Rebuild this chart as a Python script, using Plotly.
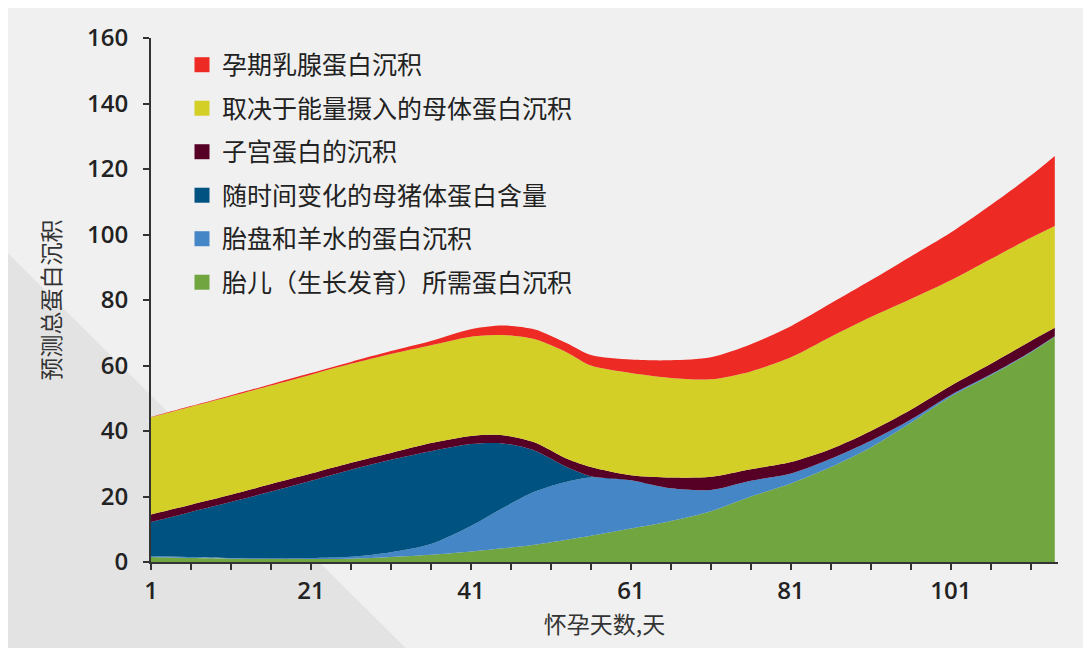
import plotly.graph_objects as go

days = [1, 6, 11, 16, 21, 26, 31, 36, 41, 45, 49, 53, 56, 61, 66, 71, 76, 81, 86, 91, 96, 101, 106, 111, 114]

fetus = [1.5, 1.2, 1.0, 0.9, 0.9, 1.0, 1.5, 2.2, 3.2, 4.2, 5.3, 6.8, 8.0, 10.2, 12.5, 15.5, 20, 24, 29, 35, 42.5, 50.5, 57, 64, 68.8]
placenta = [0.3, 0.3, 0.2, 0.2, 0.3, 0.6, 1.5, 3.3, 7.8, 12.3, 16.2, 17.7, 17.8, 14.8, 10, 6.5, 4.8, 3, 2.5, 2, 1, 0.5, 0.3, 0.2, 0.1]
sow_body = [10.4, 13.8, 17.1, 20.4, 23.6, 26.6, 28.2, 28.3, 25, 19.7, 12.5, 4.5, 0.4, 0, 0, 0, 0, 0, 0, 0, 0, 0, 0, 0, 0]
uterus = [2.3, 2.2, 2.2, 2.3, 2.2, 2.1, 2.1, 2.5, 2.5, 2.5, 2.5, 2.5, 2.8, 1.5, 3.3, 4.0, 3.5, 3.5, 3.0, 3.0, 3.0, 2.8, 3.2, 3.3, 2.6]
maternal = [29.7, 29.9, 30.1, 30.1, 30.2, 30.2, 30.2, 29.9, 30.3, 30.6, 31.5, 32.5, 31, 31.2, 30.4, 29.8, 29.9, 32, 34.3, 34.8, 33.8, 32.2, 32, 31.5, 31.1]
mammary = [0.1, 0.2, 0.3, 0.4, 0.5, 0.6, 0.9, 1.3, 2.3, 2.9, 3.0, 2.8, 3.2, 4.1, 5.4, 6.7, 8.3, 9.5, 10.2, 11.2, 13, 14.6, 16.5, 19, 21.4]

names = ["胎儿（生长发育）所需蛋白沉积", "胎盘和羊水的蛋白沉积", "随时间变化的母猪体蛋白含量",
         "子宫蛋白的沉积", "取决于能量摄入的母体蛋白沉积", "孕期乳腺蛋白沉积"]
colors = ["#70a540", "#4586c6", "#005380", "#560026", "#d4cf27", "#ed2a24"]
series = [fetus, placenta, sow_body, uterus, maternal, mammary]

fig = go.Figure()
for nm, col, vals in zip(names, colors, series):
    fig.add_trace(go.Scatter(
        x=days, y=vals, stackgroup="one", mode="lines",
        line=dict(width=0, shape="spline", smoothing=0.8, color=col),
        fillcolor=col, name=nm, showlegend=False, hoverinfo="skip"))

# legend entries, top to bottom: red first
for i, (nm, col) in enumerate(zip(names[::-1], colors[::-1])):
    fig.add_trace(go.Scatter(
        x=[None], y=[None], mode="markers",
        marker=dict(symbol="square", size=15, color=col),
        name=nm, legendgroup="g%d" % i, showlegend=True))

W, H = 1091, 648
L, R, T, B = 143, 41, 26, 94
pw, ph = W - L - R, H - T - B

def px(x):
    return (x - L) / pw

def py(y):
    return (H - B - y) / ph

shapes = [
    dict(type="path", xref="paper", yref="paper",
         path="M %f,%f L %f,%f L %f,%f Z" % (px(0), py(243), px(0), py(H), px(405), py(H)),
         fillcolor="#e3e3e3", line=dict(width=0), layer="below"),
]

tickfont = dict(family="Open Sans, Noto Sans CJK SC", size=24, color="#222222", weight=600)
titlefont = dict(family="Noto Sans CJK SC", size=23, color="#333333")

fig.update_layout(
    width=W, height=H,
    margin=dict(l=L, r=R, t=T, b=B),
    paper_bgcolor="#f0f0f0", plot_bgcolor="rgba(0,0,0,0)",
    shapes=shapes,
    showlegend=True,
    legend=dict(x=px(174), y=py(30), xanchor="left", yanchor="top",
                traceorder="grouped", tracegroupgap=8,
                bgcolor="rgba(0,0,0,0)",
                font=dict(family="Noto Sans CJK SC", size=25, color="#222222")),
    xaxis=dict(range=[1, 114.4], tick0=1, dtick=20, ticks="outside", ticklen=6, tickwidth=2,
               tickcolor="#333333", showline=True, linecolor="#333333", linewidth=2,
               showgrid=False, zeroline=False, tickfont=tickfont,
               minor=dict(tick0=1, dtick=5, ticks="outside", ticklen=6, tickwidth=2, tickcolor="#333333", showgrid=False),
               title=dict(text="怀孕天数,天", font=titlefont, standoff=10)),
    yaxis=dict(range=[0, 160], dtick=20, ticks="outside", ticklen=6, tickwidth=2,
               tickcolor="#333333", showline=True, linecolor="#333333", linewidth=2,
               showgrid=False, zeroline=False, tickfont=tickfont, ticklabelstandoff=10,
               title=dict(text="预测总蛋白沉积", font=titlefont, standoff=20)),
)

fig.write_html("out.html")
